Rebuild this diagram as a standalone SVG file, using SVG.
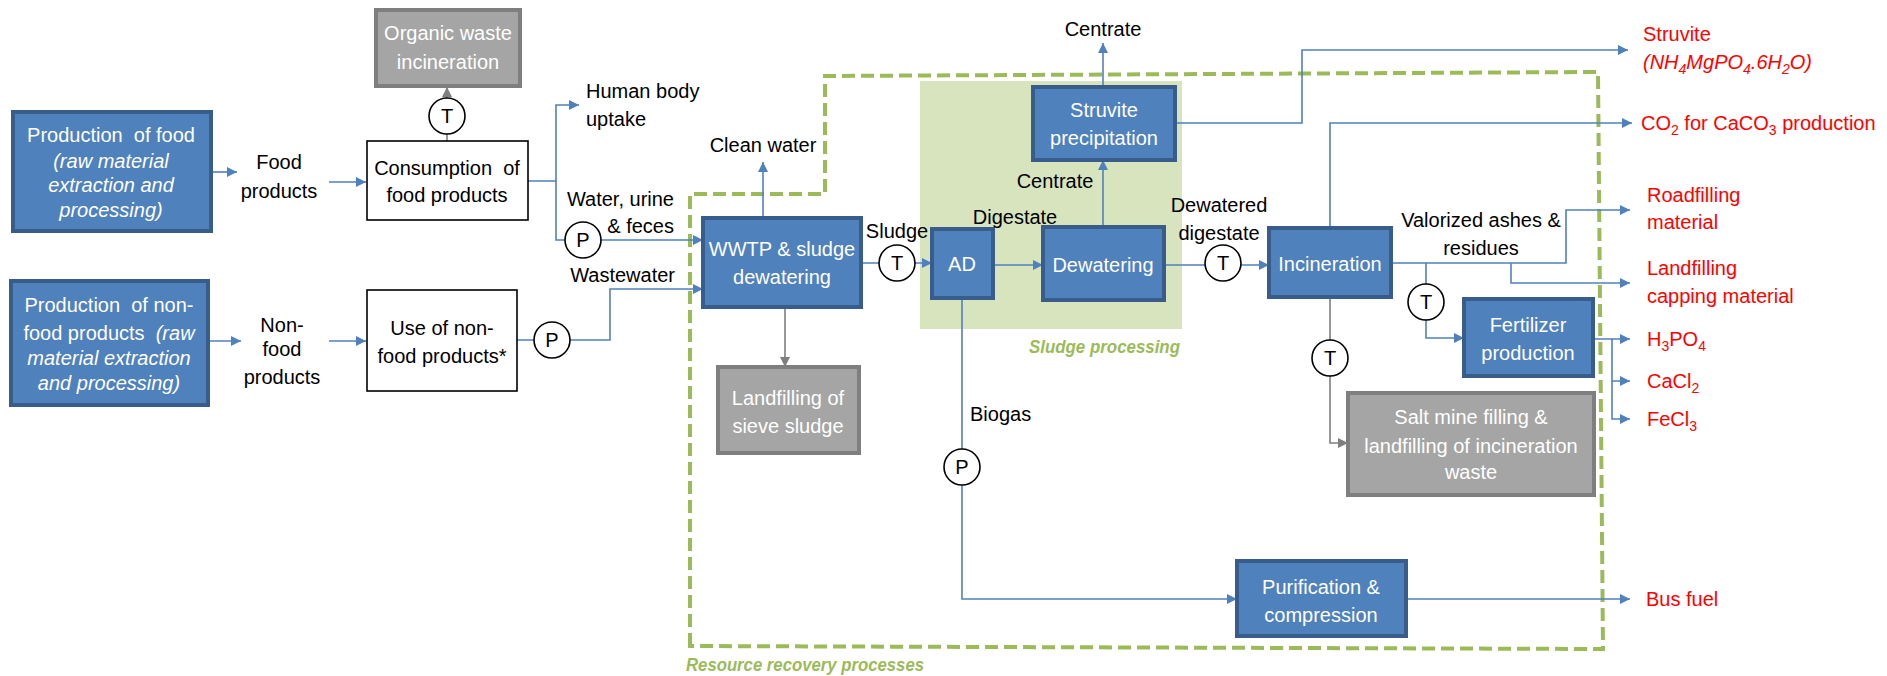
<svg xmlns="http://www.w3.org/2000/svg" width="1887" height="676" viewBox="0 0 1887 676">
  <defs>
    <marker id="ab" markerUnits="userSpaceOnUse" markerWidth="11" markerHeight="11" refX="10" refY="5" orient="auto">
      <path d="M0,0 L10,5 L0,10 z" fill="#4F81BD"/>
    </marker>
    <marker id="ag" markerUnits="userSpaceOnUse" markerWidth="11" markerHeight="11" refX="10" refY="5" orient="auto">
      <path d="M0,0 L10,5 L0,10 z" fill="#7F7F7F"/>
    </marker>
  </defs>
  <style>
    text { font-family: "Liberation Sans", Arial, sans-serif; font-size: 20px; fill: #000; }
    .c { text-anchor: middle; }
    .e { text-anchor: end; }
    .w { fill: #fff; }
    .red { fill: #FF0000; }
    .it { font-style: italic; }
    .grn { fill: #9BBB59; font-weight: bold; font-style: italic; font-size: 18px; }
    .blue { fill: #4F81BD; stroke: #385D8A; stroke-width: 4; }
    .grey { fill: #A5A5A5; stroke: #7F7F7F; stroke-width: 4; }
    .white { fill: #fff; stroke: #000; stroke-width: 1.6; }
    .ln { fill: none; stroke: #4F81BD; stroke-width: 1.6; }
    .lg { fill: none; stroke: #7F7F7F; stroke-width: 1.6; }
    .circ { fill: #fff; stroke: #000; stroke-width: 1.6; }
    .sub { font-size: 14px; }
  </style>

  <!-- sludge processing area -->
  <g id="sludge-processing">
    <rect x="920" y="81" width="262" height="248" fill="#D7E4BD"/>
    <text x="1180" y="353" class="grn e" textLength="151" lengthAdjust="spacingAndGlyphs">Sludge processing</text>
  </g>

  <!-- resource recovery boundary -->
  <g id="resource-recovery">
    <path d="M690,646 L690,194 L825,194 L825,76 L1598,72 L1603,649 Z" fill="none" stroke="#9BBB59" stroke-width="4" stroke-dasharray="13 6"/>
    <text x="686" y="671" class="grn" textLength="238" lengthAdjust="spacingAndGlyphs">Resource recovery processes</text>
  </g>

  <!-- connectors -->
  <g id="connectors">
    <path class="ln" d="M211,172 H237" marker-end="url(#ab)"/>
    <path class="ln" d="M329,182 H366" marker-end="url(#ab)"/>
    <path class="lg" d="M447,141 V98" />
    <path class="lg" d="M447,98 V87" marker-end="url(#ag)"/>
    <path class="ln" d="M528,181 H556 V105 H579" marker-end="url(#ab)"/>
    <path class="ln" d="M556,181 V240 H703" marker-end="url(#ab)"/>
    <path class="ln" d="M208,341 H241" marker-end="url(#ab)"/>
    <path class="ln" d="M329,341 H366" marker-end="url(#ab)"/>
    <path class="ln" d="M517,340 H610 V289 H703" marker-end="url(#ab)"/>
    <path class="ln" d="M763,218 V162" marker-end="url(#ab)"/>
    <path class="lg" d="M785,307 V367" marker-end="url(#ag)"/>
    <path class="ln" d="M861,263 H932" marker-end="url(#ab)"/>
    <path class="ln" d="M993,265 H1043" marker-end="url(#ab)"/>
    <path class="ln" d="M1103,227 V160" marker-end="url(#ab)"/>
    <path class="ln" d="M1103,87 V43" marker-end="url(#ab)"/>
    <path class="ln" d="M1164,265 H1269" marker-end="url(#ab)"/>
    <path class="ln" d="M1175,123 H1302 V50 H1628" marker-end="url(#ab)"/>
    <path class="ln" d="M1330,228 V123 H1632" marker-end="url(#ab)"/>
    <path class="ln" d="M1391,263 H1566 V210 H1630" marker-end="url(#ab)"/>
    <path class="ln" d="M1511,263 V283 H1630" marker-end="url(#ab)"/>
    <path class="ln" d="M1426,263 V338 H1464" marker-end="url(#ab)"/>
    <path class="ln" d="M1593,339 H1630" marker-end="url(#ab)"/>
    <path class="ln" d="M1612,339 V381 H1630" marker-end="url(#ab)"/>
    <path class="ln" d="M1612,381 V419 H1630" marker-end="url(#ab)"/>
    <path class="lg" d="M1330,297 V443 H1348" marker-end="url(#ag)"/>
    <path class="ln" d="M962,298 V599 H1237" marker-end="url(#ab)"/>
    <path class="ln" d="M1406,599 H1630" marker-end="url(#ab)"/>
  </g>

  <!-- transport / pipeline markers -->
  <g id="t-waste">
    <circle class="circ" cx="447" cy="116" r="18"/>
    <text x="447" y="123" class="c">T</text>
  </g>
  <g id="p-water">
    <circle class="circ" cx="583" cy="240" r="18"/>
    <text x="583" y="247" class="c">P</text>
  </g>
  <g id="p-wastewater">
    <circle class="circ" cx="552" cy="340" r="18"/>
    <text x="552" y="347" class="c">P</text>
  </g>
  <g id="t-sludge">
    <circle class="circ" cx="897" cy="263" r="18"/>
    <text x="897" y="270" class="c">T</text>
  </g>
  <g id="t-digestate">
    <circle class="circ" cx="1223" cy="263" r="18"/>
    <text x="1223" y="270" class="c">T</text>
  </g>
  <g id="t-ashes">
    <circle class="circ" cx="1426" cy="302" r="18"/>
    <text x="1426" y="309" class="c">T</text>
  </g>
  <g id="t-incineration-waste">
    <circle class="circ" cx="1330" cy="358" r="18"/>
    <text x="1330" y="365" class="c">T</text>
  </g>
  <g id="p-biogas">
    <circle class="circ" cx="962" cy="467" r="18"/>
    <text x="962" y="474" class="c">P</text>
  </g>

  <!-- process nodes -->
  <g id="organic-waste-incineration">
    <rect class="grey" x="376" y="10" width="144" height="76"/>
    <text x="448" y="40" class="c w">Organic waste</text>
    <text x="448" y="69" class="c w">incineration</text>
  </g>
  <g id="production-food">
    <rect class="blue" x="13" y="112" width="198" height="119"/>
    <text x="111" y="142" class="c w" xml:space="preserve">Production  of food</text>
    <text x="111" y="168" class="c w it">(raw material</text>
    <text x="111" y="192" class="c w it">extraction and</text>
    <text x="111" y="217" class="c w it">processing)</text>
  </g>
  <g id="food-products">
    <text x="279" y="169" class="c">Food</text>
    <text x="279" y="198" class="c">products</text>
  </g>
  <g id="consumption-food">
    <rect class="white" x="367" y="141" width="161" height="79"/>
    <text x="447" y="175" class="c" xml:space="preserve">Consumption  of</text>
    <text x="447" y="202" class="c">food products</text>
  </g>
  <g id="human-body-uptake">
    <text x="586" y="98">Human body</text>
    <text x="586" y="126">uptake</text>
  </g>
  <g id="water-urine-feces">
    <text x="674" y="206" class="e">Water, urine</text>
    <text x="674" y="233" class="e">&amp; feces</text>
  </g>
  <g id="wastewater">
    <text x="675" y="282" class="e">Wastewater</text>
  </g>
  <g id="production-non-food">
    <rect class="blue" x="11" y="281" width="197" height="124"/>
    <text x="109" y="312" class="c w" xml:space="preserve">Production  of non-</text>
    <text x="109" y="340" class="c w" xml:space="preserve">food products  <tspan class="it">(raw</tspan></text>
    <text x="109" y="365" class="c w it">material extraction</text>
    <text x="109" y="390" class="c w it">and processing)</text>
  </g>
  <g id="non-food-products">
    <text x="282" y="332" class="c">Non-</text>
    <text x="282" y="356" class="c">food</text>
    <text x="282" y="384" class="c">products</text>
  </g>
  <g id="use-non-food">
    <rect class="white" x="367" y="290" width="150" height="101"/>
    <text x="442" y="335" class="c">Use of non-</text>
    <text x="442" y="363" class="c">food products*</text>
  </g>
  <g id="clean-water">
    <text x="763" y="152" class="c">Clean water</text>
  </g>
  <g id="wwtp">
    <rect class="blue" x="703" y="218" width="158" height="89"/>
    <text x="782" y="256" class="c w">WWTP &amp; sludge</text>
    <text x="782" y="284" class="c w">dewatering</text>
  </g>
  <g id="landfilling-sieve-sludge">
    <rect class="grey" x="718" y="367" width="141" height="86"/>
    <text x="788" y="405" class="c w">Landfilling of</text>
    <text x="788" y="433" class="c w">sieve sludge</text>
  </g>
  <g id="sludge-label">
    <text x="897" y="238" class="c">Sludge</text>
  </g>
  <g id="ad">
    <rect class="blue" x="932" y="229" width="61" height="69"/>
    <text x="962" y="271" class="c w">AD</text>
  </g>
  <g id="digestate-label">
    <text x="1015" y="224" class="c">Digestate</text>
  </g>
  <g id="dewatering">
    <rect class="blue" x="1043" y="227" width="121" height="73"/>
    <text x="1103" y="272" class="c w">Dewatering</text>
  </g>
  <g id="centrate-mid">
    <text x="1055" y="188" class="c">Centrate</text>
  </g>
  <g id="struvite-precipitation">
    <rect class="blue" x="1033" y="87" width="142" height="73"/>
    <text x="1104" y="117" class="c w">Struvite</text>
    <text x="1104" y="145" class="c w">precipitation</text>
  </g>
  <g id="centrate-top">
    <text x="1103" y="36" class="c">Centrate</text>
  </g>
  <g id="dewatered-digestate">
    <text x="1219" y="212" class="c">Dewatered</text>
    <text x="1219" y="240" class="c">digestate</text>
  </g>
  <g id="incineration">
    <rect class="blue" x="1269" y="228" width="122" height="69"/>
    <text x="1330" y="271" class="c w">Incineration</text>
  </g>
  <g id="valorized-ashes">
    <text x="1481" y="227" class="c">Valorized ashes &amp;</text>
    <text x="1481" y="255" class="c">residues</text>
  </g>
  <g id="fertilizer-production">
    <rect class="blue" x="1464" y="299" width="129" height="77"/>
    <text x="1528" y="332" class="c w">Fertilizer</text>
    <text x="1528" y="360" class="c w">production</text>
  </g>
  <g id="salt-mine-filling">
    <rect class="grey" x="1348" y="393" width="246" height="102"/>
    <text x="1471" y="424" class="c w">Salt mine filling &amp;</text>
    <text x="1471" y="453" class="c w">landfilling of incineration</text>
    <text x="1471" y="479" class="c w">waste</text>
  </g>
  <g id="biogas-label">
    <text x="970" y="421">Biogas</text>
  </g>
  <g id="purification-compression">
    <rect class="blue" x="1237" y="561" width="169" height="75"/>
    <text x="1321" y="594" class="c w">Purification &amp;</text>
    <text x="1321" y="622" class="c w">compression</text>
  </g>

  <!-- recovered products -->
  <g id="out-struvite">
    <text x="1643" y="41" class="red">Struvite</text>
    <text x="1643" y="69" class="red it">(NH<tspan class="sub" dy="5">4</tspan><tspan dy="-5">MgPO</tspan><tspan class="sub" dy="5">4</tspan><tspan dy="-5">.6H</tspan><tspan class="sub" dy="5">2</tspan><tspan dy="-5">O)</tspan></text>
  </g>
  <g id="out-co2">
    <text x="1641" y="130" class="red">CO<tspan class="sub" dy="5">2</tspan><tspan dy="-5"> for CaCO</tspan><tspan class="sub" dy="5">3</tspan><tspan dy="-5"> production</tspan></text>
  </g>
  <g id="out-roadfilling">
    <text x="1647" y="202" class="red">Roadfilling</text>
    <text x="1647" y="229" class="red">material</text>
  </g>
  <g id="out-landfilling-capping">
    <text x="1647" y="275" class="red">Landfilling</text>
    <text x="1647" y="303" class="red">capping material</text>
  </g>
  <g id="out-h3po4">
    <text x="1647" y="346" class="red">H<tspan class="sub" dy="5">3</tspan><tspan dy="-5">PO</tspan><tspan class="sub" dy="5">4</tspan></text>
  </g>
  <g id="out-cacl2">
    <text x="1647" y="388" class="red">CaCl<tspan class="sub" dy="5">2</tspan></text>
  </g>
  <g id="out-fecl3">
    <text x="1647" y="426" class="red">FeCl<tspan class="sub" dy="5">3</tspan></text>
  </g>
  <g id="out-bus-fuel">
    <text x="1646" y="606" class="red">Bus fuel</text>
  </g>
</svg>
